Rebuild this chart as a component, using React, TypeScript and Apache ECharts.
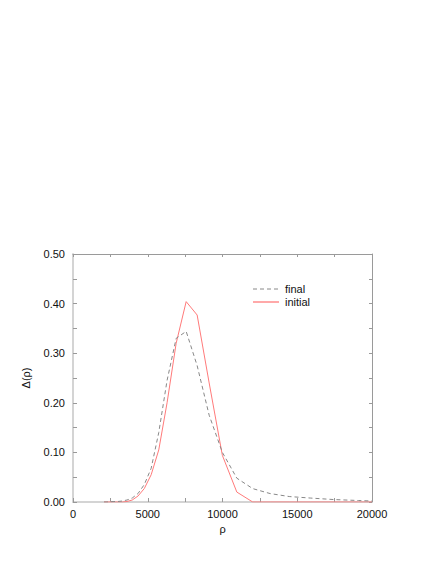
import React, { useEffect, useRef } from "react";
import * as echarts from "echarts";

const rho = [2074, 2275, 2495, 2737, 3002, 3293, 3612, 3962, 4346, 4767, 5229, 5736, 6292, 6901, 7570, 8304, 9108, 9991, 10959, 12021, 13186, 14464, 15865, 17403, 19089, 20000];
const finalValues = [0, 0, 0.0005, 0.001, 0.001, 0.002, 0.004, 0.008, 0.017, 0.035, 0.068, 0.14, 0.245, 0.33, 0.344, 0.275, 0.175, 0.1, 0.048, 0.027, 0.017, 0.011, 0.008, 0.005, 0.003, 0.002];
const initialValues = [0, 0, 0, 0, 0, 0, 0.001, 0.004, 0.012, 0.027, 0.055, 0.105, 0.2, 0.32, 0.404, 0.377, 0.24, 0.094, 0.02, 0, 0, 0, 0, 0, 0, 0];
const seriesNames = ["final", "initial"];
const xTicks = [0, 5000, 10000, 15000, 20000];
const yTicks = [0, 0.1, 0.2, 0.3, 0.4, 0.5];

const FONT = "Liberation Sans, Arial, Helvetica, sans-serif";
const FINAL_COLOR = "#888888";
const INITIAL_COLOR = "#ff7a7a";

export default function App() {
  const ref = useRef<HTMLDivElement>(null);
  useEffect(() => {
    if (!ref.current) return;
    const chart = echarts.init(ref.current, undefined, { renderer: "svg" });
    const pair = (vals: number[]) => rho.map((x, i) => [x, vals[i]]);
    const xMin = xTicks[0];
    const xMax = xTicks[xTicks.length - 1];
    const xInt = xTicks[1] - xTicks[0];
    const yMin = yTicks[0];
    const yMax = yTicks[yTicks.length - 1];
    const yInt = yTicks[1] - yTicks[0];
    const legendX = 253;
    const legendY = 289;
    const legendStep = 13;
    const legendStyles = [
      { stroke: FINAL_COLOR, lineWidth: 1, lineDash: [4, 3] },
      { stroke: INITIAL_COLOR, lineWidth: 1.3 },
    ];
    const legendGraphics: any[] = [];
    seriesNames.forEach((name, i) => {
      const y = legendY + i * legendStep;
      legendGraphics.push({
        type: "line",
        shape: { x1: legendX, y1: y, x2: legendX + 26, y2: y },
        style: legendStyles[i],
        silent: true,
      });
      legendGraphics.push({
        type: "text",
        x: legendX + 32,
        y,
        style: {
          text: name,
          fontFamily: FONT,
          fontSize: 11,
          fill: "#111",
          verticalAlign: "middle",
          align: "left",
        },
        silent: true,
      });
    });
    chart.setOption({
      animation: false,
      backgroundColor: "#ffffff",
      grid: { left: 73, right: 64, top: 254, bottom: 62 },
      legend: { show: false },
      graphic: legendGraphics,
      xAxis: [
        {
          type: "value",
          min: xMin,
          max: xMax,
          interval: xInt,
          position: "bottom",
          name: "ρ",
          nameLocation: "middle",
          nameGap: 21,
          nameTextStyle: { fontFamily: FONT, fontSize: 11, color: "#111" },
          axisLine: { show: true, onZero: false, lineStyle: { color: "#d4d4d4", width: 2 } },
          axisTick: { show: true, inside: true, length: 4, lineStyle: { color: "#999" } },
          minorTick: { show: true, splitNumber: 2, length: 4, lineStyle: { color: "#999" } },
          axisLabel: { fontFamily: FONT, fontSize: 11, color: "#111", margin: 6, formatter: (v: number) => String(v) },
          splitLine: { show: false },
        },
        {
          type: "value",
          min: xMin,
          max: xMax,
          interval: xInt,
          position: "top",
          axisLine: { show: true, onZero: false, lineStyle: { color: "#9a9a9a", width: 1 } },
          axisTick: { show: true, inside: true, length: 3, lineStyle: { color: "#9a9a9a" } },
          minorTick: { show: true, splitNumber: 2, length: 3, lineStyle: { color: "#9a9a9a" } },
          axisLabel: { show: false },
          splitLine: { show: false },
        },
      ],
      yAxis: [
        {
          type: "value",
          min: yMin,
          max: yMax,
          interval: yInt,
          position: "left",
          name: "Δ(ρ)",
          nameLocation: "middle",
          nameGap: 42,
          nameRotate: 90,
          nameTextStyle: { fontFamily: FONT, fontSize: 11, color: "#111" },
          axisLine: { show: true, onZero: false, lineStyle: { color: "#d4d4d4", width: 2 } },
          axisTick: { show: true, inside: true, length: 4, lineStyle: { color: "#999" } },
          minorTick: { show: true, splitNumber: 2, length: 4, lineStyle: { color: "#999" } },
          axisLabel: {
            fontFamily: FONT,
            fontSize: 11,
            color: "#111",
            margin: 8,
            formatter: (v: number) => v.toFixed(2),
          },
          splitLine: { show: false },
        },
        {
          type: "value",
          min: yMin,
          max: yMax,
          interval: yInt,
          position: "right",
          axisLine: { show: true, onZero: false, lineStyle: { color: "#9a9a9a", width: 1 } },
          axisTick: { show: true, inside: true, length: 3, lineStyle: { color: "#9a9a9a" } },
          minorTick: { show: true, splitNumber: 2, length: 3, lineStyle: { color: "#9a9a9a" } },
          axisLabel: { show: false },
          splitLine: { show: false },
        },
      ],
      series: [
        {
          name: seriesNames[0],
          type: "line",
          xAxisIndex: 0,
          yAxisIndex: 0,
          data: pair(finalValues),
          symbol: "none",
          lineStyle: { color: FINAL_COLOR, width: 1, type: [4, 3] },
          itemStyle: { color: FINAL_COLOR },
          z: 3,
        },
        {
          name: seriesNames[1],
          type: "line",
          xAxisIndex: 0,
          yAxisIndex: 0,
          data: pair(initialValues),
          symbol: "none",
          lineStyle: { color: INITIAL_COLOR, width: 1 },
          itemStyle: { color: INITIAL_COLOR },
          z: 2,
        },
      ],
    });
    return () => chart.dispose();
  }, []);
  return <div ref={ref} style={{ width: 436, height: 564, position: "absolute", left: 0, top: 0 }} />;
}
